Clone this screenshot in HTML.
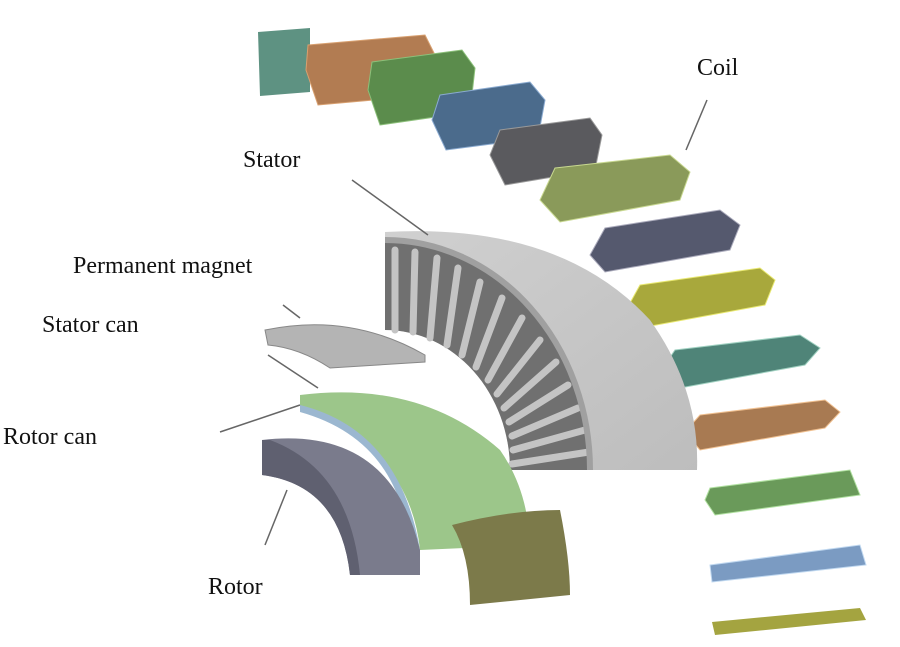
<!DOCTYPE html>
<html><head><style>
body{margin:0;background:#fff;}
svg{display:block}
text{font-family:"Liberation Serif",serif;font-size:24px;fill:#111}
</style></head><body>
<svg width="900" height="647" viewBox="0 0 900 647">
<defs>
<linearGradient id="sg" x1="0" y1="0" x2="1" y2="1"><stop offset="0" stop-color="#d0d0d0"/><stop offset="1" stop-color="#bdbdbd"/></linearGradient>
</defs>
<g stroke-width="1">
<polygon points="258,32 310,28 310,92 260,96" fill="#5e9282"/>
<polygon points="308,45 425,35 435,55 430,95 318,105 306,70" fill="#b27c52" stroke="#d8a070"/>
<polygon points="372,62 462,50 475,68 470,112 380,125 368,90" fill="#5b8c4c" stroke="#8cc07a"/>
<polygon points="440,95 530,82 545,100 538,138 446,150 432,120" fill="#4b6b8c" stroke="#8aaad0"/>
<polygon points="500,130 590,118 602,135 595,170 505,185 490,155" fill="#5a5a5e" stroke="#999"/>
<polygon points="555,168 670,155 690,172 680,200 560,222 540,200" fill="#8a9a5a" stroke="#c8d890"/>
<polygon points="605,228 720,210 740,225 730,250 605,272 590,255" fill="#55596e" stroke="#aab"/>
<polygon points="640,285 760,268 775,280 765,305 640,328 625,312" fill="#a8a83c" stroke="#e8e870"/>
<polygon points="675,350 800,335 820,348 805,365 680,388 660,372" fill="#4f8478" stroke="#9fd0c0"/>
<polygon points="700,415 825,400 840,412 825,428 700,450 685,432" fill="#a87a52" stroke="#f0c090"/>
<polygon points="710,488 850,470 860,495 715,515 705,500" fill="#6a9a5a" stroke="#b0e0a0"/>
<polygon points="710,565 860,545 866,565 712,582" fill="#7b9bc2" stroke="#c0d8f0"/>
<polygon points="712,622 860,608 866,620 715,635" fill="#a4a440"/>
</g>
<path d="M385,232 Q560,222 650,320 Q700,390 697,470 L510,470 A125,140 0 0 0 385,330 Z" fill="url(#sg)"/>
<path d="M385,240 A205,230 0 0 1 590,470 L510,470 A125,140 0 0 0 385,330 Z" fill="#707070"/>
<g stroke="#c4c4c4" stroke-width="7" stroke-linecap="round">
<line x1="395" y1="250" x2="395" y2="330"/>
<line x1="415" y1="252" x2="413" y2="332"/>
<line x1="437" y1="258" x2="430" y2="338"/>
<line x1="458" y1="268" x2="447" y2="345"/>
<line x1="480" y1="282" x2="462" y2="355"/>
<line x1="502" y1="298" x2="476" y2="367"/>
<line x1="522" y1="318" x2="488" y2="380"/>
<line x1="540" y1="340" x2="497" y2="394"/>
<line x1="556" y1="362" x2="504" y2="408"/>
<line x1="568" y1="385" x2="509" y2="422"/>
<line x1="578" y1="408" x2="512" y2="436"/>
<line x1="585" y1="430" x2="513" y2="450"/>
<line x1="589" y1="452" x2="512" y2="464"/>
</g>
<path d="M385,240 A205,230 0 0 1 590,470" fill="none" stroke="#a0a0a0" stroke-width="6"/>
<path d="M265,330 Q350,312 425,355 L425,362 L330,368 Q300,348 268,345 Z" fill="#b4b4b4" stroke="#888"/>
<path d="M300,395 Q420,380 500,450 Q528,490 530,545 L420,550 Q410,450 300,405 Z" fill="#9cc68a"/>
<path d="M300,405 Q400,430 420,550 L410,550 Q400,440 300,412 Z" fill="#9bb7d0"/>
<path d="M262,440 Q390,425 420,550 L420,575 L350,575 Q340,485 262,475 Z" fill="#7a7b8c"/>
<path d="M262,440 L262,475 Q340,485 350,575 L360,575 Q350,470 270,440 Z" fill="#5f6070"/>
<path d="M452,525 Q510,510 560,510 Q570,560 570,595 L470,605 Q470,555 452,525 Z" fill="#7c7a4a"/>
<g stroke="#666" stroke-width="1.5">
<line x1="707" y1="100" x2="686" y2="150"/>
<line x1="352" y1="180" x2="428" y2="235"/>
<line x1="283" y1="305" x2="300" y2="318"/>
<line x1="268" y1="355" x2="318" y2="388"/>
<line x1="220" y1="432" x2="300" y2="405"/>
<line x1="265" y1="545" x2="287" y2="490"/>
</g>
<text x="697" y="75">Coil</text>
<text x="243" y="167">Stator</text>
<text x="73" y="273">Permanent magnet</text>
<text x="42" y="332">Stator can</text>
<text x="3" y="444">Rotor can</text>
<text x="208" y="594">Rotor</text>
</svg>
</body></html>
